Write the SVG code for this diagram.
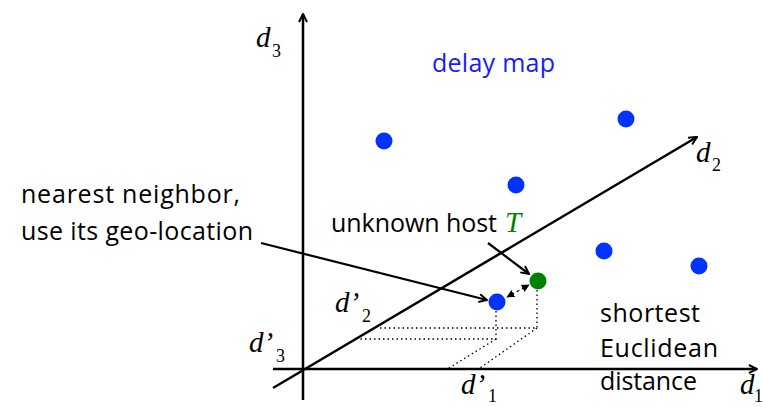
<svg xmlns="http://www.w3.org/2000/svg" width="763" height="407" viewBox="0 0 763 407">
<style>
.ax{stroke:#000;stroke-width:2.5;fill:none}
.ln{stroke:#000;stroke-width:2.2;fill:none}
.dot{stroke:#000;stroke-width:1.3;stroke-dasharray:1.5 3;fill:none}
.b{fill:#0033ff}
.g{fill:#008000}
.t{font-family:"Open Sans","Noto Sans",sans-serif;font-size:25px;fill:#000}
.m{font-family:"Liberation Serif",serif;font-style:italic;font-size:29px;fill:#000}
.s{font-family:"Liberation Serif",serif;font-size:18px;fill:#000}
</style>
<defs>
<marker id="ah2" viewBox="0 0 10 10" refX="9" refY="5" markerWidth="10" markerHeight="10" orient="auto" markerUnits="userSpaceOnUse">
<path d="M1,1 L9,5 L1,9" fill="none" stroke="#000" stroke-width="2"/>
</marker>
<marker id="sm" viewBox="0 0 10 10" refX="9" refY="5" markerWidth="8" markerHeight="8" orient="auto" markerUnits="userSpaceOnUse">
<path d="M0,0 L10,5 L0,10 z" fill="#000"/>
</marker>
</defs>
<g id="axes">
<line class="ax" x1="303" y1="400" x2="303" y2="14" marker-end="url(#ah2)"/>
<line class="ax" x1="273" y1="369" x2="757" y2="369" marker-end="url(#ah2)"/>
<line class="ax" x1="273" y1="388" x2="697" y2="137" marker-end="url(#ah2)"/>
</g>
<g id="connectors">
<polyline class="dot" points="496,311 496,339 360,339"/>
<polyline class="dot" points="537,290 537,328 378,328"/>
<line class="dot" x1="496" y1="339" x2="449" y2="368"/>
<line class="dot" x1="537" y1="328" x2="480" y2="368"/>
<line class="dot" x1="518" y1="291" x2="507" y2="297" marker-end="url(#sm)"/>
<line class="dot" x1="518" y1="291" x2="529" y2="285" marker-end="url(#sm)"/>
<line class="ln" x1="261" y1="243" x2="487" y2="300" marker-end="url(#ah2)"/>
<line class="ln" x1="488" y1="243" x2="529" y2="274" marker-end="url(#ah2)"/>
</g>
<g id="points">
<circle class="b" cx="384" cy="141" r="8.5"/>
<circle class="b" cx="516" cy="185" r="8.5"/>
<circle class="b" cx="626" cy="119" r="8.5"/>
<circle class="b" cx="604" cy="251" r="8.5"/>
<circle class="b" cx="699" cy="266" r="8.5"/>
<circle class="b" cx="497" cy="302" r="8.5"/>
<circle class="g" cx="538" cy="281" r="8.5"/>
</g>
<g id="labels">
<text class="t" x="432" y="72" textLength="123" style="fill:#1a1aff">delay map</text>
<text class="t" x="21" y="203" textLength="219">nearest neighbor,</text>
<text class="t" x="21" y="240" textLength="232">use its geo-location</text>
<text class="t" x="331" y="232" textLength="166">unknown host</text>
<text class="m" x="505" y="232" style="fill:#008000">T</text>
<text class="t" x="600" y="322" textLength="100">shortest</text>
<text class="t" x="600" y="357" textLength="118">Euclidean</text>
<text class="t" x="600" y="390" textLength="97">distance</text>
<text class="m" x="256" y="47">d</text><text class="s" x="272" y="57">3</text>
<text class="m" x="696" y="162">d</text><text class="s" x="712" y="171">2</text>
<text class="m" x="740" y="394">d</text><text class="s" x="754" y="402">1</text>
<text class="m" x="335" y="312">d’</text><text class="s" x="362" y="322">2</text>
<text class="m" x="249" y="352">d’</text><text class="s" x="276" y="362">3</text>
<text class="m" x="461" y="394">d’</text><text class="s" x="488" y="402">1</text>
</g>
</svg>
